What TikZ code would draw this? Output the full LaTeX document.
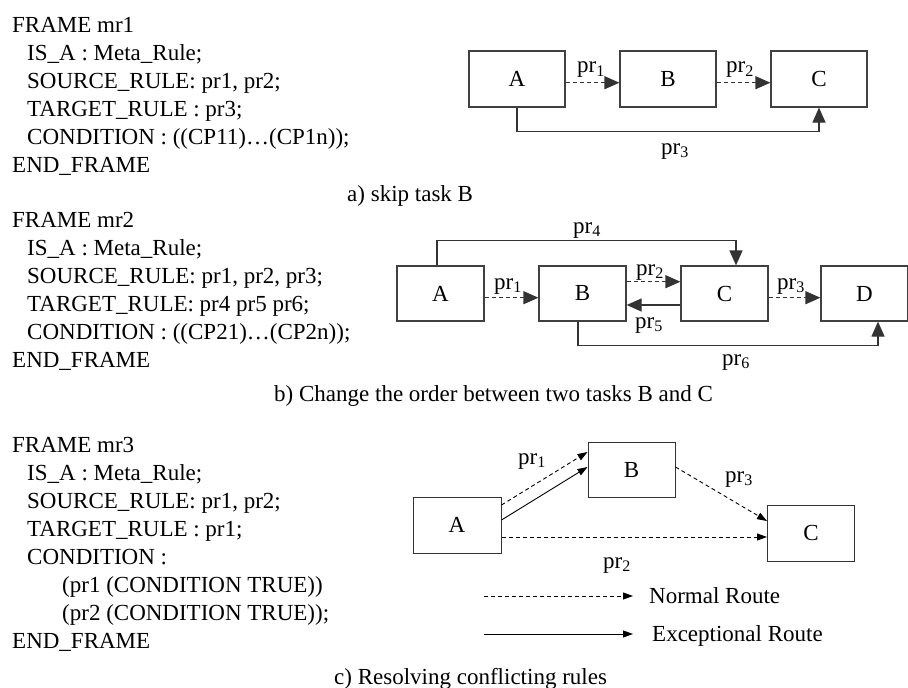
\documentclass[tikz,border=0pt]{standalone}
\usepackage{fontspec}
\setmainfont{Liberation Serif}
\usetikzlibrary{arrows.meta}
\begin{document}
\begin{tikzpicture}[x=1pt,y=-1pt,
  every node/.style={inner sep=0pt, font=\fontsize{23}{28}\selectfont},
  txt/.style={anchor=base west},
  lbl/.style={anchor=base},
  boxa/.style={draw=black!75, line width=1.2pt, minimum width=96pt, minimum height=56pt},
  boxb/.style={draw=black!75, line width=1.2pt, minimum width=87pt, minimum height=55pt},
  boxc/.style={draw=black!80, line width=1pt, minimum width=87pt, minimum height=55pt},
  big/.style={draw=black!80, line width=1.2pt, -{Triangle[length=15pt,width=13pt]}},
  small/.style={draw=black, line width=0.9pt, -{Triangle[length=10pt,width=7pt]}},
  dsh/.style={dash pattern=on 4pt off 3pt}]
\useasboundingbox (0,0) rectangle (908,688);

% ---------- section a ----------
\node[txt] (ta1) at (12,32) {FRAME mr1};
\node[txt] (ta2) at (27,60) {IS\_A : Meta\_Rule;};
\node[txt] (ta3) at (27,88) {SOURCE\_RULE: pr1, pr2;};
\node[txt] (ta4) at (27,116) {TARGET\_RULE : pr3;};
\node[txt] (ta5) at (27,144) {CONDITION : ((CP11)…(CP1n));};
\node[txt] (ta6) at (12,172) {END\_FRAME};
\node[txt] (capa) at (347,201) {a) skip task B};

\node[boxa] (A1) at (517,79) {A};
\node[boxa] (B1) at (668,79) {B};
\node[boxa] (C1) at (819,79) {C};
\draw[big,dsh] ([yshift=-3.7pt]A1.east) -- ([yshift=-3.7pt]B1.west);
\draw[big,dsh] ([yshift=-3.7pt]B1.east) -- ([yshift=-3.7pt]C1.west);
\draw[big] (A1.south) -- ++(0,24) -| (C1.south);
\node[lbl] (la1) at (591,72.5) {pr\textsubscript{1}};
\node[lbl] (la2) at (740,72.5) {pr\textsubscript{2}};
\node[lbl] (la3) at (675,154) {pr\textsubscript{3}};

% ---------- section b ----------
\node[txt] (tb1) at (12,227) {FRAME mr2};
\node[txt] (tb2) at (27,255) {IS\_A : Meta\_Rule;};
\node[txt] (tb3) at (27,283) {SOURCE\_RULE: pr1, pr2, pr3;};
\node[txt] (tb4) at (27,311) {TARGET\_RULE: pr4 pr5 pr6;};
\node[txt] (tb5) at (27,339) {CONDITION : ((CP21)…(CP2n));};
\node[txt] (tb6) at (12,367) {END\_FRAME};
\node[txt] (capb) at (274,401) {b) Change the order between two tasks B and C};

\node[boxb] (A2) at (440.5,293.5) {A};
\node[boxb] (B2) at (582.5,293.5) {B};
\node[boxb] (C2) at (724.5,293.5) {C};
\node[boxb] (D2) at (864.5,293.5) {D};
\draw[big,dsh] ([yshift=-4.2pt]A2.east) -- ([yshift=-4.2pt]B2.west);
\draw[big,dsh] ([yshift=11.8pt]B2.east) -- ([yshift=11.8pt]C2.west);
\draw[big] ([yshift=-11.5pt]C2.west) -- ([yshift=-11.5pt]B2.east);
\draw[big,dsh] ([yshift=-4.2pt]C2.east) -- ([yshift=-4.2pt]D2.west);
\draw[big] ([xshift=-3.5pt]A2.north) -- ++(0,-25) -| ([xshift=11.5pt]C2.north);
\draw[big] ([xshift=-4.5pt]B2.south) -- ++(0,24) -| ([xshift=13.5pt]D2.south);
\node[lbl] (lb4) at (587,233) {pr\textsubscript{4}};
\node[lbl] (lb1) at (508,289) {pr\textsubscript{1}};
\node[lbl] (lb2) at (650,275) {pr\textsubscript{2}};
\node[lbl] (lb3) at (791,289) {pr\textsubscript{3}};
\node[lbl] (lb5) at (649,328) {pr\textsubscript{5}};
\node[lbl] (lb6) at (736,365) {pr\textsubscript{6}};

% ---------- section c ----------
\node[txt] (tc1) at (12,452) {FRAME mr3};
\node[txt] (tc2) at (27,480) {IS\_A : Meta\_Rule;};
\node[txt] (tc3) at (27,508) {SOURCE\_RULE: pr1, pr2;};
\node[txt] (tc4) at (27,536) {TARGET\_RULE : pr1;};
\node[txt] (tc5) at (27,564) {CONDITION :};
\node[txt] (tc6) at (62,592) {(pr1 (CONDITION TRUE))};
\node[txt] (tc7) at (62,620) {(pr2 (CONDITION TRUE));};
\node[txt] (tc8) at (12,648) {END\_FRAME};
\node[txt] (capc) at (334,684) {c) Resolving conflicting rules};

\node[boxc, minimum width=88pt, minimum height=56pt] (A3) at (457,525) {A};
\node[boxc] (B3) at (631.5,469.5) {B};
\node[boxc, minimum height=56pt] (C3) at (811,533) {C};
\draw[small,dsh] ([yshift=20pt]A3.east) -- ([yshift=17.5pt]B3.west);
\draw[small] ([yshift=5pt]A3.east) -- ([yshift=2.5pt]B3.west);
\draw[small,dsh] ([yshift=2.5pt]B3.east) -- ([yshift=12pt]C3.west);
\draw[small,dsh] ([yshift=-12pt]A3.east) -- ([yshift=-4pt]C3.west);
\node[lbl] (lc1) at (532,464) {pr\textsubscript{1}};
\node[lbl] (lc3) at (739,482) {pr\textsubscript{3}};
\node[lbl] (lc2) at (617,568) {pr\textsubscript{2}};

\coordinate (n1) at (484,596);
\coordinate (n2) at (633,596);
\coordinate (e1) at (484,634);
\coordinate (e2) at (633,634);
\draw[small,dsh] (n1) -- (n2);
\draw[small] (e1) -- (e2);
\node[txt] (nr) at (649,603) {Normal Route};
\node[txt] (er) at (652,641) {Exceptional Route};
\end{tikzpicture}
\end{document}
